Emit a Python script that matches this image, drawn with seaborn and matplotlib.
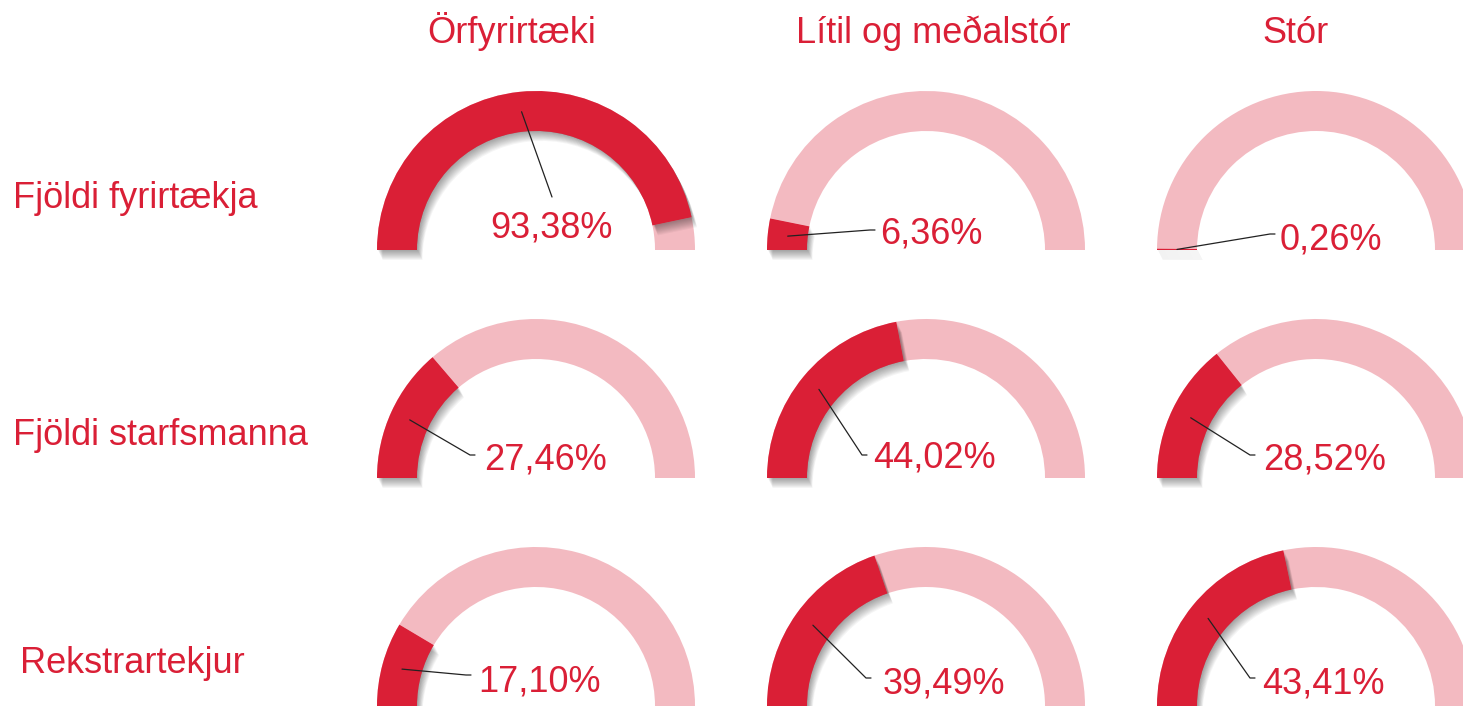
import numpy as np
import matplotlib.pyplot as plt
import seaborn as sns

# data
col_titles = ["Örfyrirtæki", "Lítil og meðalstór", "Stór"]
row_titles = ["Fjöldi fyrirtækja", "Fjöldi starfsmanna", "Rekstrartekjur"]
shares_fyrirtaeki = [93.38, 6.36, 0.26]
shares_starfsmenn = [27.46, 44.02, 28.52]
shares_tekjur = [17.10, 39.49, 43.41]
shares = [shares_fyrirtaeki, shares_starfsmenn, shares_tekjur]

sns.set_theme(style="white")
plt.rcParams['font.family'] = ['Liberation Sans', 'DejaVu Sans']

red = "#da1f36"
pink = "#f3bac1"

W, H = 1463, 706
fig = plt.figure(figsize=(W / 100, H / 100), dpi=100)
ax = fig.add_axes([0, 0, 1, 1])

col_x = [536, 926, 1316]
row_y = [H - 250, H - 478, H - 706]
R, ring = 159, 40

# label placement (pixel layout): text left x, text baseline y, leader end x, y
lab_pos = [[(490, 237), (880, 243), (1280, 249)],
           [(484, 470), (873, 468), (1263, 470)],
           [(478, 692), (883, 693), (1262, 693)]]
lead_end = [[(552, 197), (870, 230), (1270, 234)],
            [(470, 455), (862, 455), (1250, 455)],
            [(466, 675), (866, 678), (1250, 678)]]

for i, row in enumerate(shares):
    for j, p in enumerate(row):
        cx, cy = col_x[j], row_y[i]
        vals = [p, 100 - p, 100]
        # pink background
        ax.pie(vals, colors=[pink, pink, "none"], startangle=180, counterclock=False,
               center=(cx, cy), radius=R, wedgeprops=dict(width=ring, lw=0))
        # soft shadow of the red part
        for k in range(10):
            ax.pie(vals, colors=["#000000", "none", "none"], startangle=180,
                   counterclock=False, center=(cx + 1 + k * 0.5, cy - 1 - k * 1.0),
                   radius=R, wedgeprops=dict(width=ring, lw=0, alpha=0.04))
        ax.pie(vals, colors=[red, "none", "none"], startangle=180, counterclock=False,
               center=(cx, cy), radius=R, wedgeprops=dict(width=ring, lw=0))
        # leader line from middle of red segment
        ang = np.deg2rad(180 - p * 0.9)
        rm = R - ring / 2
        ex, ey = lead_end[i][j]
        tx, ty = lab_pos[i][j]
        xs = [cx + rm * np.cos(ang), ex]
        ys = [cy + rm * np.sin(ang), H - ey]
        if ex < tx - 8:
            xs.append(ex + 5)
            ys.append(H - ey)
        ax.plot(xs, ys, color="#222222", lw=0.9, zorder=5)
        ax.text(tx, H - ty, f"{p:.2f}%".replace(".", ","), color=red, fontsize=26,
                ha="left", va="baseline", zorder=6)

title_x = [512, 933, 1296]
for j, t in enumerate(col_titles):
    ax.text(title_x[j], H - 43, t, color=red, fontsize=26, ha="center", va="baseline")

row_lab = [(13, 208), (13, 445), (20, 673)]
for i, t in enumerate(row_titles):
    ax.text(row_lab[i][0], H - row_lab[i][1], t, color=red, fontsize=26,
            ha="left", va="baseline")

ax.set_xlim(0, W)
ax.set_ylim(0, H)
ax.set_aspect("equal")
ax.axis("off")
fig.savefig("out.png", dpi=100, facecolor="white")
